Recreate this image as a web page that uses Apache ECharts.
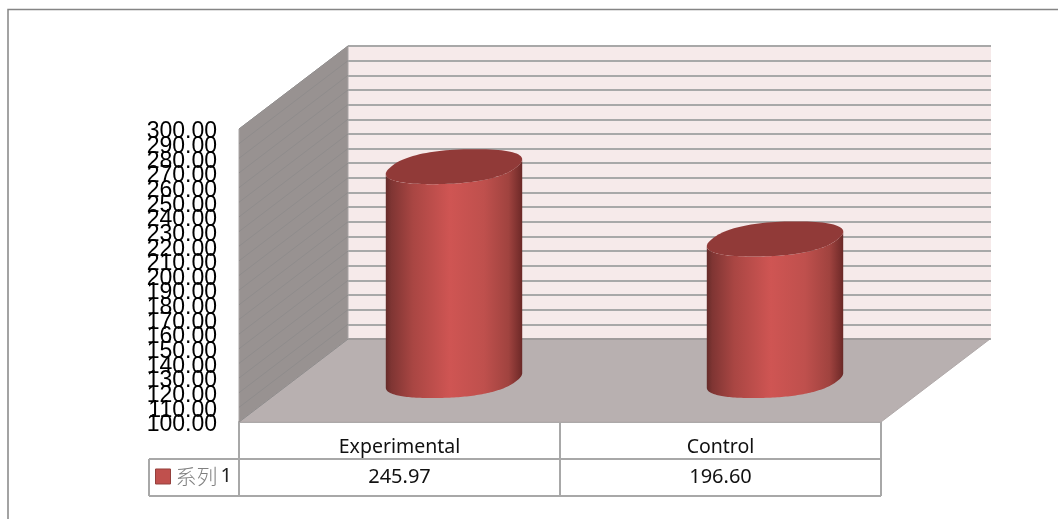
<!DOCTYPE html>
<html><head><meta charset="utf-8">
<style>html,body{margin:0;padding:0;background:#fff}#c{width:1058px;height:519px}</style>
<script src="https://cdn.jsdelivr.net/npm/echarts@6/dist/echarts.min.js"></script>
</head><body><div id="c"></div>
<script>
const categories = ['Experimental', 'Control'];
const seriesName = '系列1';
const seriesValues = [245.97, 196.60];
const yTicks = [100,110,120,130,140,150,160,170,180,190,200,210,220,230,240,250,260,270,280,290,300];

const DEPTH_X = 109, DEPTH_Y = -83;
const LINE = '#a8a8a8';
const chart = echarts.init(document.getElementById('c'));

const spow = (v, p) => Math.sign(v) * Math.pow(Math.abs(v), p);
function ringPoint(cx, cy, a, dx, dy, t) {
  const c = spow(Math.cos(t), 0.85), s = spow(Math.sin(t), 0.85);
  return [cx + a * c + dx * s, cy + dy * s];
}
function ring(cx, cy, a, dx, dy, from, to) {
  const pts = [], n = 96;
  for (let i = 0; i <= n; i++) pts.push(ringPoint(cx, cy, a, dx, dy, from + (to - from) * i / n));
  return pts;
}
function extremeAngle(a, dx) {
  let best = 0, bx = -1e9;
  for (let i = 0; i < 360; i++) {
    const t = i / 360 * Math.PI, x = ringPoint(0, 0, a, dx, 1, t - Math.PI / 2)[0];
    if (x > bx) { bx = x; best = t - Math.PI / 2; }
  }
  return best;
}

function renderCylinder(params, api) {
  const cat = api.value(0);
  const top = api.coord([cat, api.value(1)]);
  const base = api.coord([cat, yTicks[0]]);
  const cx = base[0] + DEPTH_X / 2;
  const yb = base[1] + DEPTH_Y / 2, yt = top[1] + DEPTH_Y / 2;
  const a = 63, dx = 21, dy = -17.5;
  const tx = extremeAngle(a, dx);
  const arcBase = ring(cx, yb, a, dx, dy, tx, tx - Math.PI);
  const arcTop = ring(cx, yt, a, dx, dy, tx - Math.PI, tx);
  const side = arcBase.concat(arcTop);
  const cap = ring(cx, yt, a, dx, dy, 0, Math.PI * 2);
  return { type: 'group', children: [
    { type: 'polygon', shape: { points: side }, style: { fill: {
      type: 'linear', x: 0, y: 0, x2: 1, y2: 0, colorStops: [
        { offset: 0, color: '#652b29' }, { offset: 0.04, color: '#7f3533' },
        { offset: 0.2, color: '#a94643' }, { offset: 0.47, color: '#cf5553' },
        { offset: 0.72, color: '#bf504d' }, { offset: 0.9, color: '#a0433f' },
        { offset: 0.98, color: '#772e2c' }, { offset: 1, color: '#682826' } ] } } },
    { type: 'polygon', shape: { points: cap }, style: { fill: '#913a38' } }
  ] };
}

function renderShell(params, api) {
  const bot = api.coord([0, yTicks[0]])[1];
  const top = api.coord([0, yTicks[yTicks.length - 1]])[1];
  const x0 = params.coordSys.x, x1 = x0 + params.coordSys.width;
  return { type: 'group', children: [
    { type: 'polygon', shape: { points: [[x0, bot], [x1, bot], [x1 + DEPTH_X, bot + DEPTH_Y], [x0 + DEPTH_X, bot + DEPTH_Y]] },
      style: { fill: '#b8b0b0', stroke: '#b0a9a9', lineWidth: 1 } },
    { type: 'line', shape: { x1: x0 + DEPTH_X, y1: bot + DEPTH_Y, x2: x1 + DEPTH_X, y2: bot + DEPTH_Y }, style: { stroke: '#a09c9c', lineWidth: 2 } },
    { type: 'polygon', shape: { points: [[x0, bot], [x0, top], [x0 + DEPTH_X, top + DEPTH_Y], [x0 + DEPTH_X, bot + DEPTH_Y]] },
      style: { fill: '#989291', stroke: '#a8a4a4', lineWidth: 1 } }
  ] };
}

function renderSideLine(params, api) {
  const y = api.coord([0, api.value(0)])[1], x0 = params.coordSys.x;
  return { type: 'line', shape: { x1: x0, y1: y, x2: x0 + DEPTH_X, y2: y + DEPTH_Y },
    style: { stroke: '#8f8c8c', lineWidth: 1 } };
}

function renderCell(params, api) {
  const p = api.coord([api.value(0), yTicks[0]]);
  return { type: 'text', style: { text: api.value(1).toFixed(2), x: p[0], y: p[1] + 55,
    align: 'center', verticalAlign: 'middle', fill: '#111', font: '20px "Noto Sans"' } };
}

const tableLine = (x1, y1, x2, y2) => ({ type: 'line', silent: true, z: 5,
  shape: { x1, y1, x2, y2 }, style: { stroke: LINE, lineWidth: 2 } });

chart.setOption({
  animation: false,
  backgroundColor: '#fff',
  legend: { left: 155, top: 466, itemWidth: 15, itemHeight: 15, itemGap: 0, padding: 0,
    data: [{ name: seriesName, icon: 'rect', itemStyle: { color: '#c0504d', borderColor: '#94403d', borderWidth: 1 } }],
    formatter: () => '{a|系列}{b|1}',
    textStyle: { rich: {
      a: { fontSize: 21, width: 45, color: '#808080', fontFamily: '"Noto Sans CJK SC"', fontWeight: 300 },
      b: { fontSize: 20, color: '#222', fontFamily: '"Noto Sans"' } } } },
  grid: [
    { left: 239, right: 177, top: 129, bottom: 97 },
    { left: 348, right: 67, top: 46, bottom: 180, show: true, backgroundColor: '#f6eaea', borderWidth: 0 },
    { left: 239, right: 177, top: 132, bottom: 94 }
  ],
  xAxis: [
    { type: 'category', gridIndex: 0, data: categories,
      axisLine: { show: true, lineStyle: { color: LINE, width: 2 } },
      axisTick: { show: true, length: 74, alignWithLabel: false, lineStyle: { color: LINE, width: 2 } },
      axisLabel: { margin: 15, interval: 0, color: '#111', fontSize: 19.5, fontFamily: '"Noto Sans"' } },
    { type: 'value', gridIndex: 1, min: 0, max: 1, show: false },
    { type: 'value', gridIndex: 2, min: 0, max: 1, show: false }
  ],
  yAxis: [
    { type: 'value', gridIndex: 0, min: 100, max: 300, interval: 10,
      axisLine: { show: true, lineStyle: { color: '#b0b0b0', width: 1 } }, axisTick: { show: false }, splitLine: { show: false },
      axisLabel: { show: false } },
    { type: 'value', gridIndex: 1, min: 100, max: 300, interval: 10,
      axisLine: { show: false }, axisTick: { show: false }, axisLabel: { show: false },
      splitLine: { show: true, lineStyle: { color: LINE, width: 2 } } },
    { type: 'category', gridIndex: 2, position: 'left', boundaryGap: false, data: yTicks.map(v => v.toFixed(2)),
      axisLine: { show: false }, axisTick: { show: false }, splitLine: { show: false },
      axisLabel: { interval: 0, margin: 22, color: '#000', fontSize: 23, fontFamily: '"Liberation Sans"' } }
  ],
  graphic: [
    { type: 'polyline', silent: true, shape: { points: [[1058, 9.5], [8, 9.5], [8, 519]] }, style: { fill: null, stroke: '#858585', lineWidth: 1.5 } },
    tableLine(149, 459, 881, 459), tableLine(149, 496, 881, 496), tableLine(149, 459, 149, 496)
  ],
  series: [
    { type: 'custom', silent: true, z: 2, xAxisIndex: 0, yAxisIndex: 0, renderItem: renderShell, data: [[0, yTicks[0]]] },
    { type: 'custom', silent: true, z: 3, xAxisIndex: 0, yAxisIndex: 0, renderItem: renderSideLine, data: yTicks.map(v => [v]), encode: { y: 0 } },
    { type: 'custom', name: seriesName, z: 4, xAxisIndex: 0, yAxisIndex: 0, renderItem: renderCylinder,
      itemStyle: { color: '#c0504d' }, data: seriesValues.map((v, i) => [i, v]), encode: { x: 0, y: 1 } },
    { type: 'custom', silent: true, z: 5, xAxisIndex: 0, yAxisIndex: 0, renderItem: renderCell,
      data: seriesValues.map((v, i) => [i, v]), encode: { x: 0, y: 1 } }
  ]
});
</script></body></html>
